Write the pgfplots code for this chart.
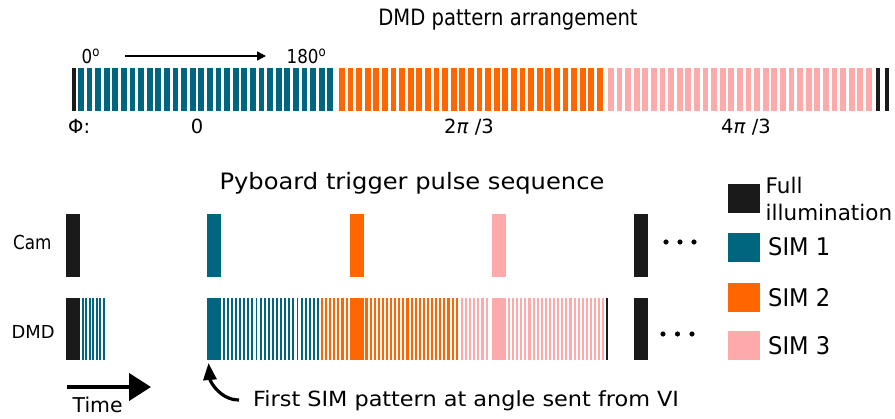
\documentclass[border=0pt]{standalone}
\usepackage{fontspec}
\setmainfont{DejaVu Sans}
\newfontfamily\fa{DejaVu Sans}[FakeStretch=0.87]
\newfontfamily\fb{DejaVu Sans}[FakeStretch=0.93]
\newfontfamily\fw{DejaVu Sans}[FakeStretch=1.07]
\usepackage{pgfplots}
\pgfplotsset{compat=1.18}
\usetikzlibrary{arrows.meta}
\definecolor{simA}{RGB}{0,102,128}
\definecolor{simB}{RGB}{255,102,0}
\definecolor{simC}{RGB}{255,170,170}
\definecolor{full}{RGB}{26,26,26}
\newcommand\fs[1]{\fontsize{#1}{#1}\selectfont}
\pgfplotsset{
  bars/.style n args={3}{only marks, mark=|, color=#1, mark size=#2, mark options={line width=#3, line cap=butt}},
}
\begin{document}
\begin{tikzpicture}
\begin{axis}[scale only axis, width=895pt, height=419pt,
  xmin=0, xmax=895, ymin=0, ymax=419, y dir=reverse,
  hide axis, clip=false]
\path (axis cs:0,0) rectangle (axis cs:895,419);
% ---------- top row: DMD pattern arrangement (y 68..111)
\addplot[bars={full}{21.5pt}{4pt}] coordinates {(73.7,89.5) (878,89.5) (886.5,89.5)};
\addplot[bars={simA}{21.5pt}{5.8pt}] coordinates {
(80.9,89.5)(89.5,89.5)(98.1,89.5)(106.7,89.5)(115.3,89.5)(123.9,89.5)(132.5,89.5)(141.1,89.5)(149.7,89.5)(158.3,89.5)
(166.9,89.5)(175.5,89.5)(184.1,89.5)(192.7,89.5)(201.3,89.5)(209.9,89.5)(218.5,89.5)(227.1,89.5)(235.7,89.5)(244.3,89.5)
(252.9,89.5)(261.5,89.5)(270.1,89.5)(278.7,89.5)(287.3,89.5)(295.9,89.5)(304.5,89.5)(313.1,89.5)(321.7,89.5)(330.3,89.5)};
\addplot[bars={simB}{21.5pt}{5.8pt}] coordinates {
(341.9,89.5)(350.5,89.5)(359.1,89.5)(367.7,89.5)(376.3,89.5)(384.9,89.5)(393.5,89.5)(402.1,89.5)(410.7,89.5)(419.3,89.5)
(427.9,89.5)(436.5,89.5)(445.1,89.5)(453.7,89.5)(462.3,89.5)(470.9,89.5)(479.5,89.5)(488.1,89.5)(496.7,89.5)(505.3,89.5)
(513.9,89.5)(522.5,89.5)(531.1,89.5)(539.7,89.5)(548.3,89.5)(556.9,89.5)(565.5,89.5)(574.1,89.5)(582.7,89.5)(591.3,89.5)(599.9,89.5)};
\addplot[bars={simC}{21.5pt}{5.8pt}] coordinates {
(610.9,89.5)(619.5,89.5)(628.1,89.5)(636.7,89.5)(645.3,89.5)(653.9,89.5)(662.5,89.5)(671.1,89.5)(679.7,89.5)(688.3,89.5)
(696.9,89.5)(705.5,89.5)(714.1,89.5)(722.7,89.5)(731.3,89.5)(739.9,89.5)(748.5,89.5)(757.1,89.5)(765.7,89.5)(774.3,89.5)
(782.9,89.5)(791.5,89.5)(800.1,89.5)(808.7,89.5)(817.3,89.5)(825.9,89.5)(834.5,89.5)(843.1,89.5)(851.7,89.5)(860.3,89.5)(868.9,89.5)};
% top arrow
\addplot[black, line width=1.5pt, -{Triangle[length=9pt,width=9pt]}] coordinates {(125,56) (266,56)};
% ---------- Cam row (y 214..277)
\addplot[bars={full}{31.5pt}{14pt}] coordinates {(73.3,245.5) (640.5,245.5)};
\addplot[bars={simA}{31.5pt}{14pt}] coordinates {(213.5,245.5)};
\addplot[bars={simB}{31.5pt}{14pt}] coordinates {(357,245.5)};
\addplot[bars={simC}{31.5pt}{14pt}] coordinates {(499,245.5)};
% ---------- DMD row (y 298..360)
\addplot[bars={full}{31pt}{14pt}] coordinates {(73.3,329) (640.5,329)};
\addplot[bars={full}{31pt}{2pt}] coordinates {(607,329)};
\addplot[bars={simA}{31pt}{14pt}] coordinates {(213.5,329)};
\addplot[bars={simB}{31pt}{14pt}] coordinates {(357,329)};
\addplot[bars={simC}{31pt}{14pt}] coordinates {(499,329)};
\addplot[bars={simA}{31pt}{1.9pt}] coordinates {
(82.6,329)(86.2,329)(89.7,329)(93.3,329)(96.8,329)(100.4,329)(103.9,329)
(223.7,329)(227.8,329)(231.9,329)(236.0,329)(240.1,329)(244.2,329)(248.3,329)(252.4,329)(256.5,329)(260.6,329)
(264.7,329)(268.8,329)(272.9,329)(277.0,329)(281.1,329)(285.2,329)(289.3,329)(293.4,329)(297.5,329)(301.6,329)
(305.7,329)(309.8,329)(313.9,329)(318.0,329)};
\addplot[bars={simB}{31pt}{2.1pt}] coordinates {
(322.0,329)(326.1,329)(330.2,329)(334.3,329)(338.4,329)(342.5,329)(346.6,329)
(366.5,329)(370.6,329)(374.7,329)(378.8,329)(382.9,329)(387.0,329)(391.1,329)(395.2,329)(399.3,329)(403.4,329)
(407.5,329)(411.6,329)(415.7,329)(419.8,329)(423.9,329)(428.0,329)(432.1,329)(436.2,329)(440.3,329)(444.4,329)
(448.5,329)(452.6,329)(456.7,329)};
\addplot[bars={simC}{31pt}{2.1pt}] coordinates {
(462.0,329)(466.1,329)(470.2,329)(474.3,329)(478.4,329)(482.5,329)(486.6,329)
(509.0,329)(513.1,329)(517.2,329)(521.3,329)(525.4,329)(529.5,329)(533.6,329)(537.7,329)(541.8,329)(545.9,329)
(550.0,329)(554.1,329)(558.2,329)(562.3,329)(566.4,329)(570.5,329)(574.6,329)(578.7,329)(582.8,329)(586.9,329)
(591.0,329)(595.1,329)(599.2,329)(603.3,329)};
% dots
\addplot[only marks, mark=*, mark size=2.3pt, color=black] coordinates {(666,242)(680,242)(694,242)(663,334)(677.5,334)(692,334)};
% legend squares
\addplot[bars={full}{14.5pt}{32pt}] coordinates {(744,198.5)};
\addplot[bars={simA}{14.5pt}{32pt}] coordinates {(744,247.7)};
\addplot[bars={simB}{14.5pt}{32pt}] coordinates {(744,297.5)};
\addplot[bars={simC}{14.5pt}{32pt}] coordinates {(744,346)};
% time arrow
\addplot[black, line width=4.2pt, -{Triangle[length=22pt,width=27pt]}] coordinates {(67,387) (151,387)};
\draw[black, line width=3.2pt, -{Triangle[length=17pt,width=13pt]}] (axis cs:239,400) to[out=180,in=-85] (axis cs:208.5,363);
% texts
\node[anchor=base, inner sep=0] at (axis cs:508,26) {\fa\fs{22.5}DMD pattern arrangement};
\node[anchor=base west, inner sep=0] at (axis cs:81.5,64) {\fa\fs{19.2}0\textsuperscript{o}};
\node[anchor=base west, inner sep=0] at (axis cs:286.5,64) {\fa\fs{19.2}180\textsuperscript{o}};
\node[anchor=base west, inner sep=0] at (axis cs:68,134) {\fs{19.5}Φ:};
\node[anchor=base, inner sep=0] at (axis cs:197,134) {\fs{19.5}0};
\node[anchor=base, inner sep=0] at (axis cs:469,134) {\fs{19.5}2\textit{π} /3};
\node[anchor=base, inner sep=0] at (axis cs:746,134) {\fs{19.5}4\textit{π} /3};
\node[anchor=base, inner sep=0] at (axis cs:412,190) {\fw\fs{22.6}Pyboard trigger pulse sequence};
\node[anchor=base west, inner sep=0] at (axis cs:13,249.3) {\fa\fs{19.3}Cam};
\node[anchor=base west, inner sep=0] at (axis cs:11.5,338.3) {\fs{17.9}DMD};
\node[anchor=base west, inner sep=0] at (axis cs:72.5,413) {\fs{20.4}Time};
\node[anchor=base west, inner sep=0] at (axis cs:253,406.5) {\fw\fs{20.9}First SIM pattern at angle sent from VI};
\node[anchor=base west, inner sep=0] at (axis cs:765.5,194) {\fs{21.5}Full};
\node[anchor=base west, inner sep=0] at (axis cs:765.5,220.5) {\fs{21.5}illumination};
\node[anchor=base west, inner sep=0] at (axis cs:768,256) {\fb\fs{24.3}SIM 1};
\node[anchor=base west, inner sep=0] at (axis cs:768,306.5) {\fb\fs{24.3}SIM 2};
\node[anchor=base west, inner sep=0] at (axis cs:768,355) {\fb\fs{24.3}SIM 3};
\end{axis}
\end{tikzpicture}
\end{document}
